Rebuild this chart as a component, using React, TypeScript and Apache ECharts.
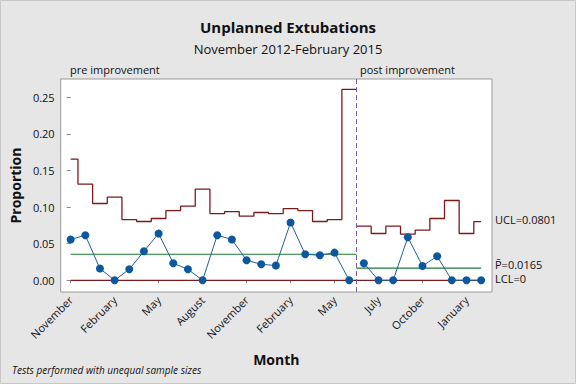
import React, { useEffect, useRef } from "react";
import * as echarts from "echarts";

const months = [
  "November", "December", "January", "February", "March", "April", "May", "June", "July", "August",
  "September", "October", "November", "December", "January", "February", "March", "April", "May", "June",
  "June", "July", "August", "September", "October", "November", "December", "January", "February",
];
const tickIndices = [0, 3, 6, 9, 12, 15, 18, 21, 24, 27];

const preProportion = [
  0.0557, 0.0616, 0.016, 0, 0.015, 0.0397, 0.0639, 0.0233, 0.015, 0,
  0.0616, 0.0557, 0.0274, 0.0219, 0.0201, 0.0789, 0.0356, 0.0342, 0.0378, 0,
];
const preUCL = [
  0.1655, 0.1313, 0.1049, 0.1135, 0.083, 0.0803, 0.0844, 0.0953, 0.1012, 0.1245,
  0.0912, 0.0939, 0.0876, 0.0926, 0.0912, 0.098, 0.0953, 0.0803, 0.083, 0.2608,
];
const preCenter = 0.0356;

const postProportion = [0.0233, 0, 0, 0.0588, 0.0196, 0.0328, 0, 0, 0];
const postUCL = [0.0739, 0.0639, 0.0739, 0.063, 0.0684, 0.0844, 0.109, 0.0639, 0.0801];
const postCenter = 0.0165;
const lcl = 0;

const yTicks = [0, 0.05, 0.1, 0.15, 0.2, 0.25];

const FONT = "'Open Sans', 'Noto Sans', sans-serif";
const RED = "#7d1a1a";
const GREEN = "#1b7a33";
const BLUE = "#0b57a0";
const LINE = "#22618f";

export default function App() {
  const ref = useRef<HTMLDivElement>(null);
  useEffect(() => {
    document.body.style.margin = "0";
    const chart = echarts.init(ref.current!, null, { renderer: "svg" });
    const nPre = preProportion.length;
    const nTotal = nPre + postProportion.length;
    const split = nPre - 0.5;

    const prePts = preProportion.map((v, i) => [i, v]);
    const postPts = postProportion.map((v, i) => [nPre + i, v]);
    const preUclData = preUCL.map((v, i) => [i, v]).concat([[split, preUCL[nPre - 1]]]);
    const postUclData = [[split, postUCL[0]]].concat(postUCL.map((v, i) => [nPre + i, v]));

    const option: any = {
      animation: false,
      backgroundColor: "#e6e6e6",
      textStyle: { fontFamily: FONT },
      title: [
        {
          text: "Unplanned Extubations",
          left: "center",
          top: 14,
          textStyle: { fontFamily: FONT, fontSize: 15, fontWeight: "bold", color: "#111" },
        },
        {
          text: "November 2012-February 2015",
          left: "center",
          top: 37,
          textStyle: { fontFamily: FONT, fontSize: 13, fontWeight: "normal", color: "#111" },
        },
      ],
      grid: {
        left: 57,
        right: 84,
        top: 79,
        bottom: 92,
        show: true,
        backgroundColor: "#ffffff",
        borderColor: "#9a9a9a",
        borderWidth: 1,
      },
      xAxis: {
        type: "value",
        min: -0.68,
        max: 28.74,
        name: "Month",
        nameLocation: "middle",
        nameGap: 60,
        nameTextStyle: { fontFamily: FONT, fontSize: 14, fontWeight: "bold", color: "#111" },
        axisLine: { show: false },
        splitLine: { show: false },
        axisTick: { show: true, length: 3, lineStyle: { color: "#888" }, customValues: tickIndices },
        axisLabel: {
          customValues: tickIndices,
          rotate: 45,
          fontFamily: FONT,
          fontSize: 11,
          color: "#111",
          margin: 6,
          formatter: (v: number) => months[Math.round(v)],
        },
      },
      yAxis: {
        type: "value",
        min: -0.016,
        max: 0.275,
        name: "Proportion",
        nameLocation: "middle",
        nameGap: 37,
        nameTextStyle: { fontFamily: FONT, fontSize: 14, fontWeight: "bold", color: "#111" },
        axisLine: { show: false },
        splitLine: { show: false },
        axisTick: { show: true, length: 4, lineStyle: { color: "#888" }, customValues: yTicks },
        axisLabel: {
          customValues: yTicks,
          fontFamily: FONT,
          fontSize: 11,
          color: "#111",
          margin: 6,
          formatter: (v: number) => v.toFixed(2),
        },
      },
      series: [
        {
          type: "line",
          data: preUclData,
          step: "middle",
          symbol: "none",
          lineStyle: { color: RED, width: 1.3 },
          markLine: {
            silent: true,
            symbol: "none",
            label: { show: false },
            lineStyle: { color: "#7b5aa6", type: [5, 3], width: 1 },
            data: [{ xAxis: split }],
          },
        },
        {
          type: "line",
          data: postUclData,
          step: "middle",
          symbol: "none",
          lineStyle: { color: RED, width: 1.3 },
        },
        {
          type: "line",
          data: [[0, lcl], [nTotal - 1, lcl]],
          symbol: "none",
          lineStyle: { color: RED, width: 1.3 },
        },
        {
          type: "line",
          data: [[0, preCenter], [split, preCenter]],
          symbol: "none",
          lineStyle: { color: GREEN, width: 1.2 },
        },
        {
          type: "line",
          data: [[split, postCenter], [nTotal - 1, postCenter]],
          symbol: "none",
          lineStyle: { color: GREEN, width: 1.2 },
        },
        {
          type: "line",
          data: prePts,
          symbol: "circle",
          symbolSize: 8,
          itemStyle: { color: BLUE },
          lineStyle: { color: LINE, width: 1 },
          z: 5,
        },
        {
          type: "line",
          data: postPts,
          symbol: "circle",
          symbolSize: 8,
          itemStyle: { color: BLUE },
          lineStyle: { color: LINE, width: 1 },
          z: 5,
        },
      ],
      graphic: [
        { type: "text", left: 70, top: 64, style: { text: "pre improvement", fontFamily: FONT, fontSize: 11, fill: "#111" } },
        { type: "text", left: 360, top: 64, style: { text: "post improvement", fontFamily: FONT, fontSize: 11, fill: "#111" } },
        { type: "text", left: 495, top: 214, style: { text: "UCL=0.0801", fontFamily: FONT, fontSize: 11, fill: "#111" } },
        { type: "text", left: 495, top: 259, style: { text: "P\u0304=0.0165", fontFamily: FONT, fontSize: 11, fill: "#111" } },
        { type: "text", left: 495, top: 273, style: { text: "LCL=0", fontFamily: FONT, fontSize: 11, fill: "#111" } },
        {
          type: "text",
          left: 12,
          top: 365,
          style: { text: "Tests performed with unequal sample sizes", fontFamily: FONT, fontSize: 10, fontStyle: "italic", fill: "#111" },
        },
        {
          type: "rect",
          shape: { x: 0.5, y: 0.5, width: 575, height: 383 },
          style: { fill: "none", stroke: "#c8c8c8", lineWidth: 1 },
          silent: true,
        },
      ],
    };
    chart.setOption(option);
    return () => chart.dispose();
  }, []);
  return <div ref={ref} style={{ width: 576, height: 384 }} />;
}
